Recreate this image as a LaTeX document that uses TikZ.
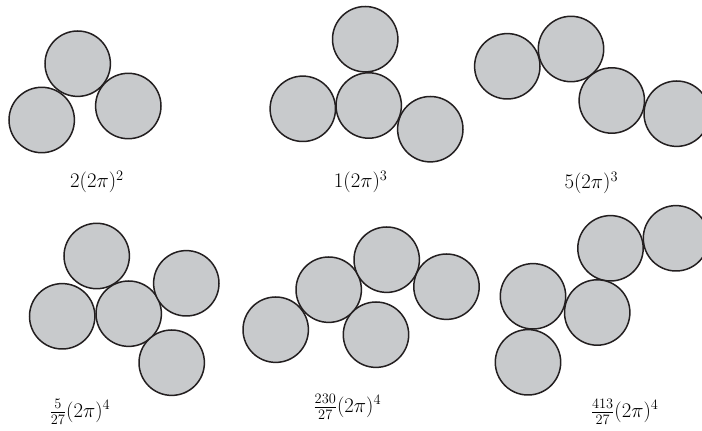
\documentclass[tikz,border=0pt]{standalone}
\usetikzlibrary{math}

\definecolor{ballgray}{RGB}{200,202,204}
\definecolor{inkline}{RGB}{35,31,32}

\tikzset{
  ball/.style={draw=inkline, line width=1.5pt, fill=ballgray},
  count/.style={inner sep=0pt, font=\fontsize{20.5}{22}\selectfont}
}

\begin{document}
\begin{tikzpicture}[x=1pt, y=1pt]
  \tikzmath{\r = 32.7;}
  \useasboundingbox (0, 0) rectangle (702, 431);

  % top row
  \draw[ball] (77.7, 367.3) circle (\r);
  \draw[ball] (41.7, 311) circle (\r);
  \draw[ball] (128.3, 325) circle (\r);
  \node[count] (twoA) at (97, 249) {$2(2\pi)^2$};

  \draw[ball] (365.2, 391.8) circle (\r);
  \draw[ball] (368.7, 325.5) circle (\r);
  \draw[ball] (302.8, 322.2) circle (\r);
  \draw[ball] (430.3, 301.8) circle (\r);
  \node[count] (oneA) at (360.7, 249) {$1(2\pi)^3$};

  \draw[ball] (507.3, 364.7) circle (\r);
  \draw[ball] (571, 382) circle (\r);
  \draw[ball] (611.8, 330.5) circle (\r);
  \draw[ball] (676.7, 317.3) circle (\r);
  \node[count] (fiveA) at (591.3, 248) {$5(2\pi)^3$};

  % bottom row
  \draw[ball] (96.7, 175) circle (\r);
  \draw[ball] (62.2, 114.7) circle (\r);
  \draw[ball] (128.7, 117.3) circle (\r);
  \draw[ball] (186.3, 147.7) circle (\r);
  \draw[ball] (171.7, 68.3) circle (\r);
  \node[count] (fracA) at (80, 19) {$\frac{5}{27}(2\pi)^4$};

  \draw[ball] (275.7, 101.3) circle (\r);
  \draw[ball] (328.7, 141.3) circle (\r);
  \draw[ball] (386.7, 171.3) circle (\r);
  \draw[ball] (446.5, 144.3) circle (\r);
  \draw[ball] (376, 96.3) circle (\r);
  \node[count] (fracB) at (347.3, 24) {$\frac{230}{27}(2\pi)^4$};

  \draw[ball] (610.5, 182.7) circle (\r);
  \draw[ball] (676, 192.7) circle (\r);
  \draw[ball] (597.2, 118.5) circle (\r);
  \draw[ball] (533, 134.7) circle (\r);
  \draw[ball] (528, 68.7) circle (\r);
  \node[count] (fracC) at (624.7, 19) {$\frac{413}{27}(2\pi)^4$};
\end{tikzpicture}
\end{document}
